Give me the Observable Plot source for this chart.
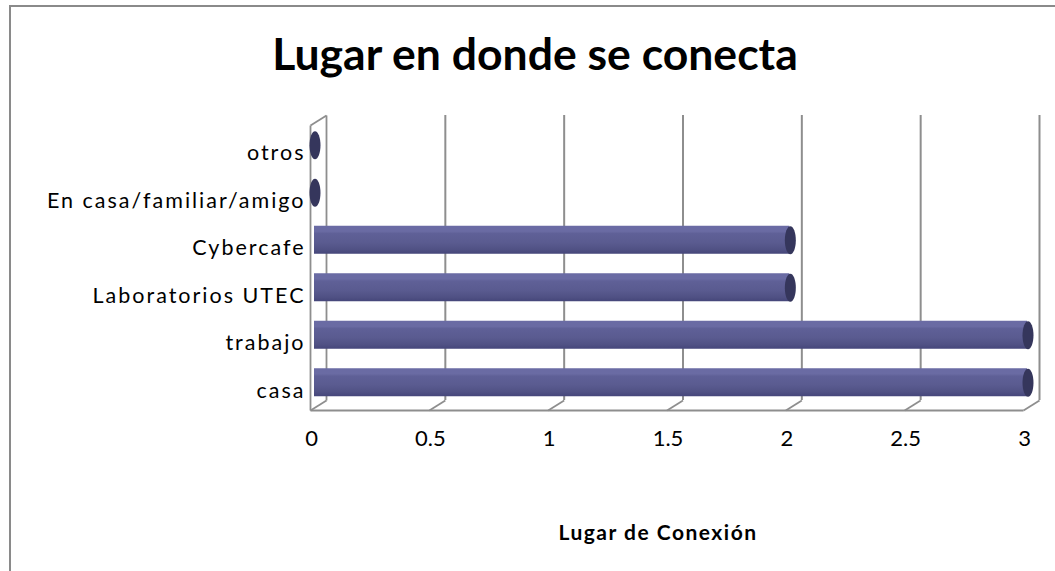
<!DOCTYPE html>
<html>
<head>
<meta charset="utf-8">
<script src="https://cdn.jsdelivr.net/npm/d3@7"></script>
<script src="https://cdn.jsdelivr.net/npm/@observablehq/plot@0.6"></script>
<style>
  html, body { margin: 0; padding: 0; background: #fff; }
  #wrap { position: relative; width: 1055px; height: 571px; overflow: hidden; font-family: Lato, "Open Sans", sans-serif; }
  #wrap svg { position: absolute; left: 0; top: 0; }
  .title { position: absolute; left: 535px; top: 31px; transform: translateX(-50%); white-space: nowrap;
           font-weight: bold; font-size: 44.5px; line-height: 1; color: #000; }
  .xtitle { position: absolute; left: 658px; top: 521px; transform: translateX(-50%); white-space: nowrap;
            font-weight: bold; font-size: 21px; line-height: 1; color: #000; letter-spacing: 1.5px; }
  .border { position: absolute; left: 9px; top: 5px; width: 1100px; height: 700px; border: 2px solid #8a8a8a; box-sizing: border-box; }
</style>
</head>
<body>
<div id="wrap">
  <div class="border"></div>
</div>
<script>
// ---- data ----
const categories = ["casa", "trabajo", "Laboratorios UTEC", "Cybercafe", "En casa/familiar/amigo", "otros"];
const values = [3, 3, 2, 2, 0, 0];
const xTicks = [0, 0.5, 1, 1.5, 2, 2.5, 3];
const tickLabels = ["0", "0.5", "1", "1.5", "2", "2.5", "3"];
const chartTitle = "Lugar en donde se conecta";
const axisTitle = "Lugar de Conexión";

const data = categories.map((c, i) => ({cat: c, value: values[i], i}));

// layout
const W = 1055, H = 571;
const mL = 326, mR = 16, mT = 115, mB = 171;
const DXpx = 16, DYpx = 10; // 3D depth offset (px)
const xMax = 3, yMax = categories.length;
const DXU = DXpx / ((W - mL - mR) / xMax);
const DYU = DYpx / ((H - mT - mB) / yMax);

const frameLines = [
  {x1: 0, y1: 0, x2: 0, y2: yMax},
  {x1: -DXU, y1: -DYU, x2: -DXU, y2: yMax - DYU},
  {x1: 0, y1: yMax, x2: -DXU, y2: yMax - DYU},
  {x1: -DXU, y1: -DYU, x2: xMax - DXU, y2: -DYU},
  ...xTicks.map(v => ({x1: v, y1: 0, x2: v - DXU, y2: -DYU}))
];

const ellipseSymbol = {
  draw(ctx) {
    const rx = 5.5, ry = 14, k = 0.5523;
    ctx.moveTo(rx, 0);
    ctx.bezierCurveTo(rx, ry * k, rx * k, ry, 0, ry);
    ctx.bezierCurveTo(-rx * k, ry, -rx, ry * k, -rx, 0);
    ctx.bezierCurveTo(-rx, -ry * k, -rx * k, -ry, 0, -ry);
    ctx.bezierCurveTo(rx * k, -ry, rx, -ry * k, rx, 0);
    ctx.closePath();
  }
};

const gridColor = "#8e8e8e";

const svg = Plot.plot({
  width: W, height: H,
  marginLeft: mL, marginRight: mR, marginTop: mT, marginBottom: mB,
  style: {background: "transparent", fontFamily: "Lato, 'Open Sans', sans-serif", overflow: "visible"},
  x: {domain: [0, xMax], axis: null},
  y: {domain: [0, yMax], axis: null},
  marks: [
    Plot.ruleX(xTicks.slice(1), {x: d => d, y1: () => 0, y2: () => yMax, stroke: gridColor, strokeWidth: 2}),
    Plot.link(frameLines, {x1: "x1", y1: "y1", x2: "x2", y2: "y2", stroke: gridColor, strokeWidth: 1.8}),
    Plot.rectX(data, {x1: () => 0, x2: "value", y1: "i", y2: d => d.i + 1,
      insetTop: 9.75, insetBottom: 9.75, dx: -12, dy: 6, fill: "url(#barGrad)"}),
    Plot.dot(data, {x: "value", y: d => d.i + 0.5, dx: -11.5, dy: 6, symbol: ellipseSymbol, r: 5,
      fill: "#35365c", stroke: "none"}),
    Plot.text(xTicks, {x: d => d, y: () => 0, dx: -15, dy: 38, text: (d, i) => tickLabels[i],
      fontSize: 22, fill: "#000"}),
    Plot.text(data, {x: () => 0, y: d => d.i + 0.5, dx: -21, dy: 14, text: "cat", textAnchor: "end",
      fontSize: 21.5, fill: "#000"})
  ]
});

// gradient for cylinder bodies
const defs = d3.select(svg).insert("defs", ":first-child");
const g = defs.append("linearGradient").attr("id", "barGrad")
  .attr("x1", 0).attr("y1", 0).attr("x2", 0).attr("y2", 1);
[[0, "#6a6ba4"], [0.2, "#6a6ba3"], [0.28, "#5f6097"], [0.6, "#5a5b90"], [0.85, "#505184"], [1, "#45467a"]]
  .forEach(([o, c]) => g.append("stop").attr("offset", o).attr("stop-color", c));

d3.select(svg).selectAll("text").filter(function() { return categories.includes(this.textContent); })
  .style("letter-spacing", "2px");

const wrap = document.getElementById("wrap");
wrap.appendChild(svg);
const t = document.createElement("div"); t.className = "title"; t.textContent = chartTitle; wrap.appendChild(t);
const xt = document.createElement("div"); xt.className = "xtitle"; xt.textContent = axisTitle; wrap.appendChild(xt);
</script>
</body>
</html>
